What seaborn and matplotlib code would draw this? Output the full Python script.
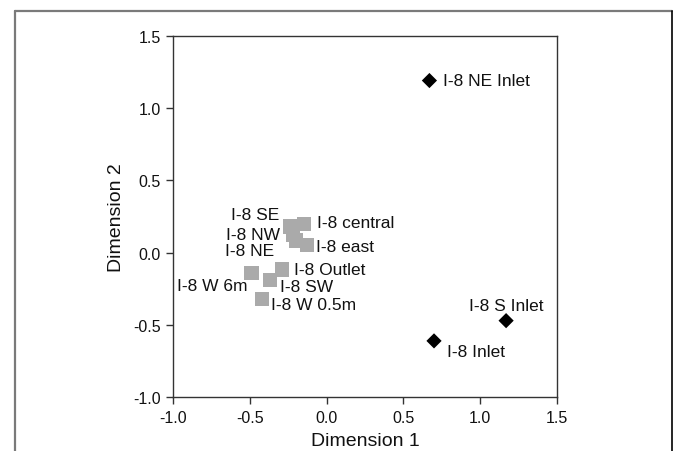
import numpy as np
import pandas as pd
import matplotlib
matplotlib.use("Agg")
import matplotlib.pyplot as plt
from matplotlib.lines import Line2D
import seaborn as sns

# MDS ordination of sampling sites
site_names = ["I-8 NE Inlet", "I-8 S Inlet", "I-8 Inlet",
              "I-8 SE", "I-8 central", "I-8 NW", "I-8 NE", "I-8 east",
              "I-8 Outlet", "I-8 W 6m", "I-8 SW", "I-8 W 0.5m"]
dim1 = [0.67, 1.17, 0.70, -0.24, -0.15, -0.22, -0.20, -0.13, -0.29, -0.49, -0.37, -0.42]
dim2 = [1.19, -0.47, -0.61, 0.18, 0.20, 0.125, 0.085, 0.055, -0.116, -0.14, -0.19, -0.32]
site_type = ["inlet", "inlet", "inlet"] + ["basin"] * 9

df = pd.DataFrame({"Dimension 1": dim1, "Dimension 2": dim2,
                   "site": site_names, "type": site_type})

# label placement (pixels from marker): dx, dy, ha
label_pos = {
    "I-8 NE Inlet": (14, 0, "left"),
    "I-8 S Inlet": (0, 15, "center"),
    "I-8 Inlet": (13, -11, "left"),
    "I-8 SE": (-11, 12, "right"),
    "I-8 central": (13, 1, "left"),
    "I-8 NW": (-13, 0, "right"),
    "I-8 NE": (-22, -10, "right"),
    "I-8 east": (9, -2, "left"),
    "I-8 Outlet": (12, 0, "left"),
    "I-8 W 6m": (-4, -13, "right"),
    "I-8 SW": (10, -6, "left"),
    "I-8 W 0.5m": (9, -6, "left"),
}

sns.set_theme(style="white")
plt.rcParams["font.family"] = ["Liberation Sans", "DejaVu Sans"]

fig = plt.figure(figsize=(6.73, 4.52), dpi=100)
ax = fig.add_axes([0.2575, 0.1188, 0.5697, 0.80])

basin = df[df["type"] == "basin"]
inlet = df[df["type"] == "inlet"]
sns.scatterplot(data=basin, x="Dimension 1", y="Dimension 2", marker="s",
                s=106, color="#aaaaaa", edgecolor="none", linewidth=0, ax=ax, zorder=3)
sns.scatterplot(data=inlet, x="Dimension 1", y="Dimension 2", marker="D",
                s=60, color="black", edgecolor="none", linewidth=0, ax=ax, zorder=4)

for _, row in df.iterrows():
    dx, dy, ha = label_pos[row["site"]]
    ax.annotate(row["site"], (row["Dimension 1"], row["Dimension 2"]),
                xytext=(dx, dy), textcoords="offset pixels",
                ha=ha, va="center", fontsize=12.5, color="#111111")

ax.set_xlim(-1.0, 1.5)
ax.set_ylim(-1.0, 1.5)
ticks = np.arange(-1.0, 1.51, 0.5)
ax.set_xticks(ticks)
ax.set_yticks(ticks)
ax.set_xticklabels([f"{t:.1f}" for t in ticks], fontsize=11.5)
ax.set_yticklabels([f"{t:.1f}" for t in ticks], fontsize=11.5)
ax.tick_params(direction="out", length=5, width=1, color="#333333",
               labelcolor="#111111", pad=4, bottom=True, left=True)
ax.set_xlabel("Dimension 1", fontsize=14, color="#111111", labelpad=5)
ax.set_ylabel("Dimension 2", fontsize=14, color="#111111", labelpad=6)
for sp in ax.spines.values():
    sp.set_color("#333333")
    sp.set_linewidth(1.0)

# outer frame (left/top grey, right dark)
fig.add_artist(Line2D([14.5 / 673, 14.5 / 673], [0, 1 - 12 / 452],
                      color="#7a7a7a", lw=1.6, transform=fig.transFigure))
fig.add_artist(Line2D([14.5 / 673, 671.5 / 673], [1 - 12 / 452, 1 - 12 / 452],
                      color="#7a7a7a", lw=1.6, transform=fig.transFigure))
fig.add_artist(Line2D([671.5 / 673, 671.5 / 673], [0, 1 - 12 / 452],
                      color="black", lw=1.2, transform=fig.transFigure))

fig.savefig("out.png", dpi=100)
